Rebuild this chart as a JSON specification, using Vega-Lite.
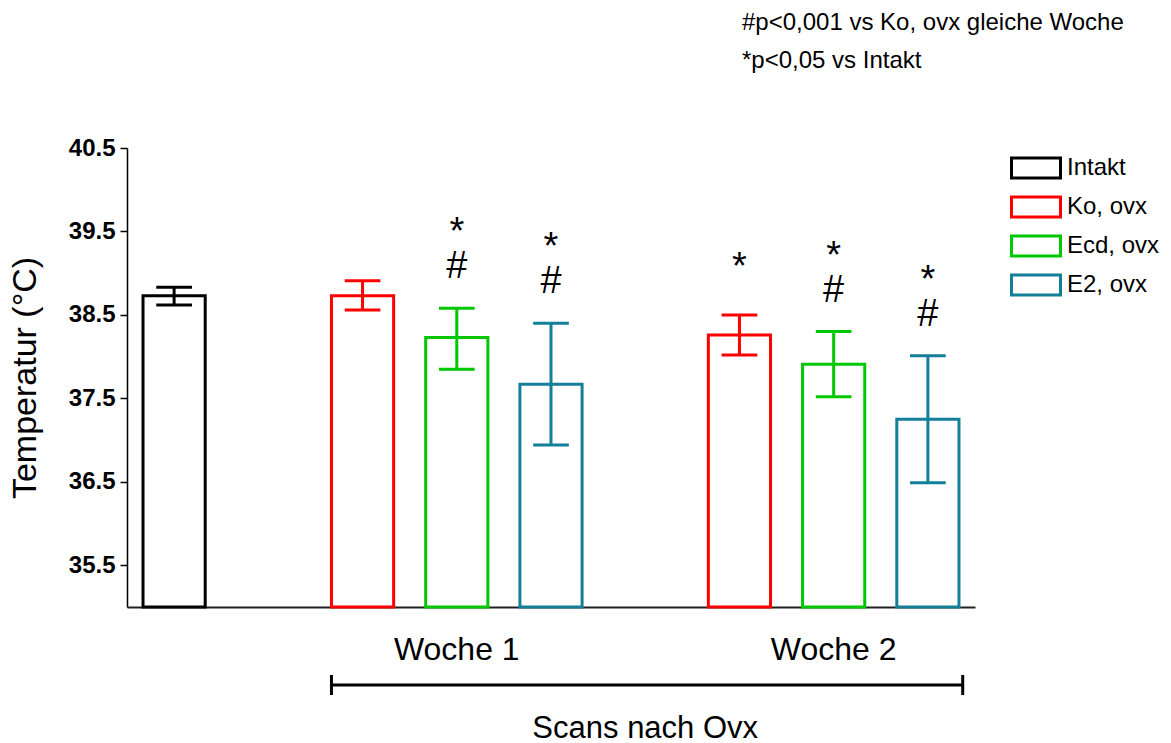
{
  "$schema": "https://vega.github.io/schema/vega-lite/v6.json",
  "background": "white",
  "padding": {"left": 8, "top": 11, "right": 5, "bottom": 0},
  "config": {
    "font": "Liberation Sans",
    "view": {"stroke": null},
    "concat": {"spacing": 0}
  },
  "title": {
    "text": ["#p<0,001 vs Ko, ovx gleiche Woche", "*p<0,05 vs Intakt"],
    "anchor": "start",
    "frame": "group",
    "align": "left",
    "dx": 615,
    "fontSize": 24,
    "fontWeight": "normal",
    "lineHeight": 38,
    "color": "black",
    "offset": 63
  },
  "datasets": {
    "temps": [
      {"slot": "Intakt", "group": "Intakt", "mean": 38.73, "lo": 38.62, "hi": 38.83, "sig": ""},
      {"slot": "W1 Ko", "group": "Ko, ovx", "mean": 38.73, "lo": 38.56, "hi": 38.91, "sig": ""},
      {"slot": "W1 Ecd", "group": "Ecd, ovx", "mean": 38.23, "lo": 37.85, "hi": 38.58, "sig": "*\n#"},
      {"slot": "W1 E2", "group": "E2, ovx", "mean": 37.67, "lo": 36.94, "hi": 38.40, "sig": "*\n#"},
      {"slot": "W2 Ko", "group": "Ko, ovx", "mean": 38.26, "lo": 38.02, "hi": 38.50, "sig": "*"},
      {"slot": "W2 Ecd", "group": "Ecd, ovx", "mean": 37.91, "lo": 37.52, "hi": 38.30, "sig": "*\n#"},
      {"slot": "W2 E2", "group": "E2, ovx", "mean": 37.25, "lo": 36.49, "hi": 38.01, "sig": "*\n#"}
    ],
    "span": [
      {"from": "W1 Ko", "to": "W2 E2", "mid": "s2", "label": "Scans nach Ovx"}
    ]
  },
  "vconcat": [
    {
      "width": 848,
      "height": 459,
      "data": {"name": "temps"},
      "encoding": {
        "x": {
          "field": "slot",
          "type": "nominal",
          "sort": null,
          "scale": {
            "domain": ["Intakt", "s1", "W1 Ko", "W1 Ecd", "W1 E2", "s2", "W2 Ko", "W2 Ecd", "W2 E2"],
            "paddingInner": 0.34,
            "paddingOuter": 0.17
          },
          "axis": {
            "title": null,
            "domain": true,
            "domainColor": "#222222",
            "domainWidth": 2,
            "ticks": false,
            "tickSize": 0,
            "labelAngle": 0,
            "labelPadding": 27,
            "labelFontSize": 32,
            "labelColor": "black",
            "labelExpr": "datum.value == 'W1 Ecd' ? 'Woche 1' : datum.value == 'W2 Ecd' ? 'Woche 2' : ''"
          }
        },
        "stroke": {
          "field": "group",
          "type": "nominal",
          "scale": {
            "domain": ["Intakt", "Ko, ovx", "Ecd, ovx", "E2, ovx"],
            "range": ["#000000", "#ff0000", "#00c800", "#137f98"]
          },
          "legend": {
            "title": null,
            "orient": "right",
            "offset": 41,
            "padding": 8,
            "symbolType": "M-2.45,-1H2.45V1H-2.45Z",
            "symbolSize": 400,
            "symbolStrokeWidth": 3,
            "symbolFillColor": "white",
            "labelFontSize": 24,
            "labelColor": "black",
            "labelOffset": 19,
            "rowPadding": 7
          }
        }
      },
      "layer": [
        {
          "mark": {"type": "bar", "filled": false, "fill": "white", "strokeWidth": 3},
          "encoding": {
            "y": {
              "field": "mean",
              "type": "quantitative",
              "scale": {"domain": [35, 40.5], "zero": false, "nice": false},
              "axis": {
                "title": "Temperatur (°C)",
                "titleFontSize": 34,
                "titleFontWeight": "normal",
                "titleColor": "black",
                "titlePadding": 26,
                "values": [35.5, 36.5, 37.5, 38.5, 39.5, 40.5],
                "format": ".1f",
                "grid": false,
                "domainColor": "black",
                "domainWidth": 1.5,
                "tickColor": "black",
                "tickWidth": 1.5,
                "tickSize": 7,
                "labelFontSize": 24,
                "labelFontWeight": "bold",
                "labelColor": "black",
                "labelPadding": 5
              }
            },
            "y2": {"datum": 35}
          }
        },
        {
          "mark": {"type": "rule", "strokeWidth": 3},
          "encoding": {
            "y": {"field": "lo", "type": "quantitative"},
            "y2": {"field": "hi"}
          }
        },
        {
          "mark": {"type": "rule", "strokeWidth": 3},
          "encoding": {
            "x": {"field": "slot", "type": "nominal", "bandPosition": 0.213},
            "x2": {"field": "slot", "bandPosition": 0.787},
            "y": {"field": "lo", "type": "quantitative"}
          }
        },
        {
          "mark": {"type": "rule", "strokeWidth": 3},
          "encoding": {
            "x": {"field": "slot", "type": "nominal", "bandPosition": 0.213},
            "x2": {"field": "slot", "bandPosition": 0.787},
            "y": {"field": "hi", "type": "quantitative"}
          }
        },
        {
          "transform": [{"filter": "datum.sig == '*\\n#'"}],
          "mark": {
            "type": "text",
            "fontSize": 38,
            "baseline": "bottom",
            "align": "center",
            "dy": -56,
            "lineHeight": 34,
            "lineBreak": "\n",
            "fill": "black"
          },
          "encoding": {
            "y": {"field": "hi", "type": "quantitative"},
            "text": {"field": "sig"},
            "stroke": {"value": null}
          }
        },
        {
          "transform": [{"filter": "datum.sig == '*'"}],
          "mark": {
            "type": "text",
            "fontSize": 38,
            "baseline": "bottom",
            "align": "center",
            "dy": -28,
            "fill": "black"
          },
          "encoding": {
            "y": {"field": "hi", "type": "quantitative"},
            "text": {"field": "sig"},
            "stroke": {"value": null}
          }
        }
      ]
    },
    {
      "width": 848,
      "height": 75,
      "data": {"name": "span"},
      "encoding": {
        "y": {"datum": 20, "type": "quantitative", "scale": {"domain": [0, 75], "reverse": true}, "axis": null}
      },
      "layer": [
        {
          "mark": {"type": "rule", "strokeWidth": 3, "color": "black"},
          "encoding": {
            "x": {
              "field": "from",
              "type": "nominal",
              "bandPosition": 0,
              "scale": {
                "domain": ["Intakt", "s1", "W1 Ko", "W1 Ecd", "W1 E2", "s2", "W2 Ko", "W2 Ecd", "W2 E2"],
                "paddingInner": 0.34,
                "paddingOuter": 0.17
              },
              "axis": null
            },
            "x2": {"field": "to", "bandPosition": 1.06}
          }
        },
        {
          "mark": {"type": "rule", "strokeWidth": 3, "color": "black"},
          "encoding": {
            "x": {"field": "from", "type": "nominal", "bandPosition": 0},
            "y": {"datum": 10},
            "y2": {"datum": 30}
          }
        },
        {
          "mark": {"type": "rule", "strokeWidth": 3, "color": "black"},
          "encoding": {
            "x": {"field": "to", "type": "nominal", "bandPosition": 1.06},
            "y": {"datum": 10},
            "y2": {"datum": 30}
          }
        },
        {
          "mark": {"type": "text", "fontSize": 31, "baseline": "alphabetic", "align": "center", "color": "black"},
          "encoding": {
            "x": {"field": "mid", "type": "nominal"},
            "y": {"datum": 73},
            "text": {"field": "label"}
          }
        }
      ]
    }
  ]
}
